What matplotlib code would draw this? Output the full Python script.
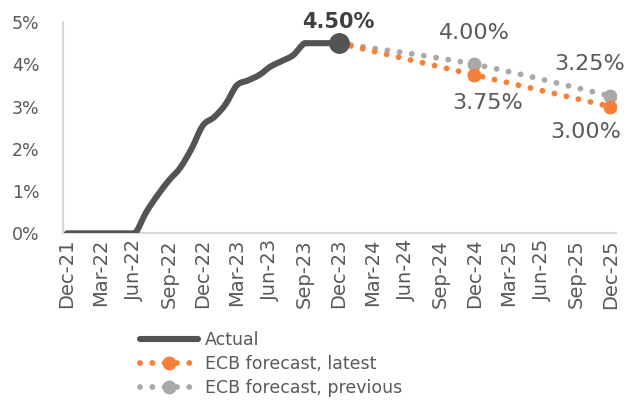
import numpy as np
import pandas as pd
import matplotlib
matplotlib.use("Agg")
import matplotlib.pyplot as plt
from matplotlib.path import Path
from matplotlib.patches import PathPatch
from matplotlib.lines import Line2D

plt.rcParams['font.family'] = ['DejaVu Sans']

# Actual rate, monthly Dec-21 .. Dec-23 (%)
actual_months = pd.date_range("2021-12-01", "2023-12-01", freq="MS")
actual = [0, 0, 0, 0, 0, 0, 0, 0.5, 0.9, 1.25, 1.55, 2.0, 2.55,
          2.75, 3.05, 3.5, 3.62, 3.75, 3.95, 4.08, 4.22, 4.5, 4.5, 4.5, 4.5]

# ECB forecasts (%)
fc_dates = pd.to_datetime(["2023-12-01", "2024-12-01", "2025-12-01"])
fc_latest = [4.5, 3.75, 3.00]
fc_previous = [4.5, 4.00, 3.25]

tick_dates = pd.date_range("2021-12-01", "2025-12-01", freq="3MS")
tick_labels = [d.strftime("%b-%y") for d in tick_dates]

start = pd.Timestamp("2021-12-01")
def mi(dates):
    return np.array([(d.year - start.year) * 12 + d.month - start.month for d in dates])

x_act = mi(actual_months)
x_fc = mi(fc_dates)

dark = "#545454"
orange = "#F77F3A"
grey = "#A9A9A9"
txt = "#595959"


def smooth_path(x, y):
    # smoothed line: cubic bezier through every point, no overshoot
    p = np.column_stack([x, y]).astype(float)
    pp = np.vstack([p[0], p, p[-1]])
    verts = [p[0]]
    codes = [Path.MOVETO]
    for i in range(len(p) - 1):
        c1 = pp[i + 1] + (pp[i + 2] - pp[i]) / 6
        c2 = pp[i + 2] - (pp[i + 3] - pp[i + 1]) / 6
        lo, hi = sorted([p[i][1], p[i + 1][1]])
        c1[1] = np.clip(c1[1], lo, hi)
        c2[1] = np.clip(c2[1], lo, hi)
        verts += [c1, c2, p[i + 1]]
        codes += [Path.CURVE4] * 3
    return Path(verts, codes)


fig = plt.figure(figsize=(6.26, 4.01), dpi=100)
ax = fig.add_axes([0.1006, 0.418, 0.8834, 0.527])

dots = (0, (0.01, 2.1))
for ys, col, z in [(fc_previous, grey, 2), (fc_latest, orange, 3)]:
    ax.add_patch(PathPatch(smooth_path(x_fc, ys), fill=False, edgecolor=col, lw=4.2,
                           linestyle=dots, capstyle='round', zorder=z))
    ax.plot(x_fc[1:], ys[1:], 'o', color=col, markersize=9, zorder=z)

ax.add_patch(PathPatch(smooth_path(x_act, actual), fill=False, edgecolor=dark, lw=4.4,
                       capstyle='round', joinstyle='round', zorder=4))
ax.plot(x_act[-1], actual[-1], 'o', color=dark, markersize=14, zorder=5)

ax.annotate("4.50%", (x_act[-1], actual[-1]), xytext=(0, 21), textcoords='offset pixels',
            ha='center', va='center', fontsize=15, fontweight='bold', color="#404040")
ax.annotate("4.00%", (x_fc[1], fc_previous[1]), xytext=(0, 31), textcoords='offset pixels',
            ha='center', va='center', fontsize=16, color=txt)
ax.annotate("3.75%", (x_fc[1], fc_latest[1]), xytext=(13, -28), textcoords='offset pixels',
            ha='center', va='center', fontsize=16, color=txt)
ax.annotate("3.25%", (x_fc[2], fc_previous[2]), xytext=(-21, 32), textcoords='offset pixels',
            ha='center', va='center', fontsize=16, color=txt)
ax.annotate("3.00%", (x_fc[2], fc_latest[2]), xytext=(-25, -25), textcoords='offset pixels',
            ha='center', va='center', fontsize=16, color=txt)

ax.set_ylim(0, 5)
ax.set_xlim(-0.35, 48.5)
ax.set_yticks(range(6))
ax.set_yticklabels([f"{v}%" for v in range(6)], fontsize=12.5, color=txt)
ax.set_xticks(mi(tick_dates))
ax.set_xticklabels(tick_labels, rotation=90, fontsize=14, color=txt)
ax.tick_params(length=0)
ax.tick_params(axis='x', pad=4)
ax.tick_params(axis='y', pad=17)
for s in ['top', 'right']:
    ax.spines[s].set_visible(False)
for s in ['left', 'bottom']:
    ax.spines[s].set_color("#D9D9D9")
    ax.spines[s].set_linewidth(1.5)

handles = [
    Line2D([], [], color=dark, lw=4.4, solid_capstyle='round'),
    Line2D([], [], color=orange, lw=4.2, linestyle=dots, dash_capstyle='round',
           marker='o', markersize=9),
    Line2D([], [], color=grey, lw=4.2, linestyle=dots, dash_capstyle='round',
           marker='o', markersize=9),
]
labels = ["Actual", "ECB forecast, latest", "ECB forecast, previous"]
leg = fig.legend(handles, labels, loc='upper left',
                 bbox_to_anchor=(0.224, 0.175), frameon=False, fontsize=12.5,
                 handlelength=3.3, handletextpad=0.45, labelspacing=0.36,
                 borderpad=0, borderaxespad=0)
for t in leg.get_texts():
    t.set_color(txt)

fig.savefig("out.png", dpi=100)
